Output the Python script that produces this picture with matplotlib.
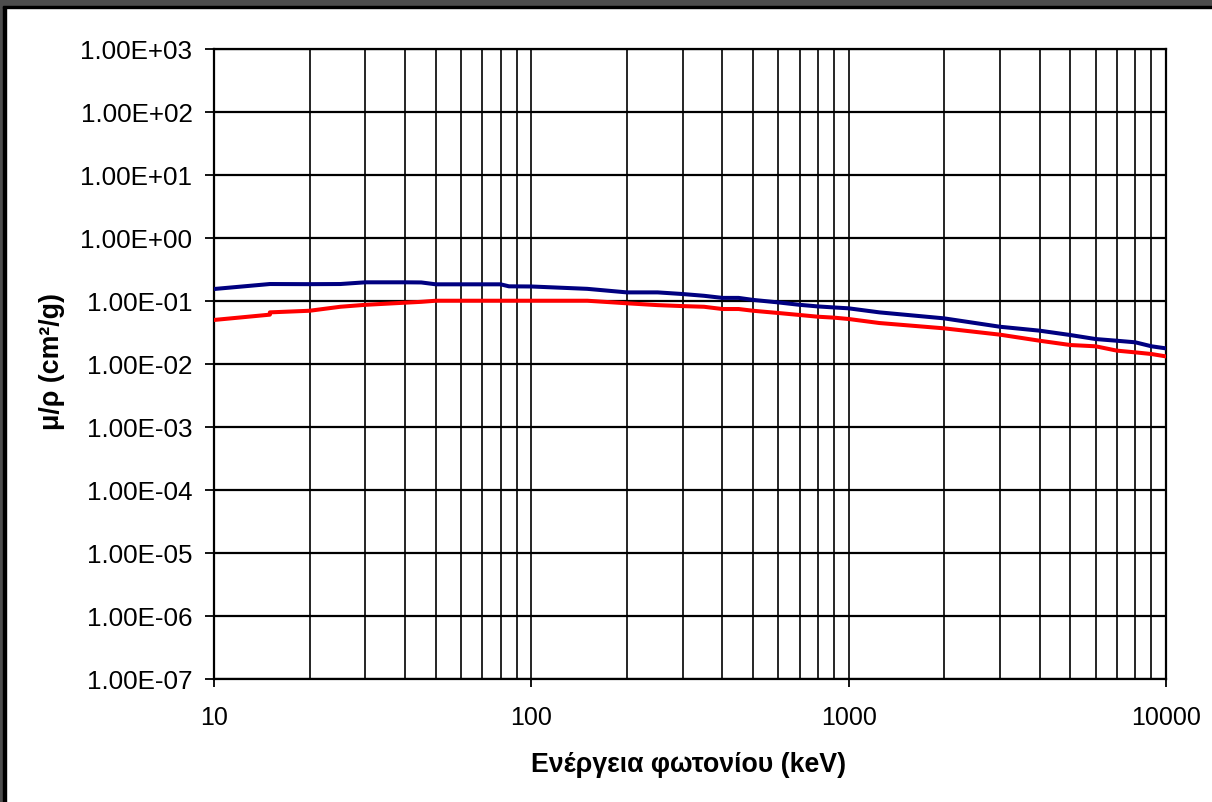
import matplotlib
matplotlib.use("Agg")
import matplotlib.pyplot as plt
from matplotlib.patches import Rectangle
from matplotlib.ticker import FixedLocator, FuncFormatter, NullFormatter

# photon energy (keV) and mass attenuation values (cm2/g)
energy = [10, 15, 15, 20, 25, 30, 40, 45, 50, 60, 80, 85, 100, 150, 200, 250,
          300, 350, 400, 450, 500, 600, 700, 800, 900, 1000, 1250, 2000, 3000,
          4000, 5000, 6000, 7000, 8000, 9000, 10000]
mu_blue = [0.155, 0.186, 0.186, 0.185, 0.186, 0.198, 0.198, 0.197, 0.184,
           0.184, 0.184, 0.171, 0.170, 0.156, 0.137, 0.137, 0.129, 0.121,
           0.112, 0.112, 0.104, 0.095, 0.087, 0.082, 0.079, 0.0765, 0.066,
           0.053, 0.039, 0.0338, 0.0288, 0.0249, 0.0234, 0.0221, 0.0191, 0.0177]
mu_red = [0.050, 0.0607, 0.066, 0.070, 0.081, 0.087, 0.094, 0.097, 0.101,
          0.101, 0.101, 0.101, 0.101, 0.101, 0.092, 0.086, 0.083, 0.081,
          0.0746, 0.0746, 0.070, 0.0645, 0.060, 0.0563, 0.0544, 0.0518, 0.0447,
          0.0368, 0.0292, 0.0234, 0.020, 0.0191, 0.0163, 0.0153, 0.0144, 0.0132]

y_decades = [1e-7, 1e-6, 1e-5, 1e-4, 1e-3, 1e-2, 1e-1, 1e0, 1e1, 1e2, 1e3]
x_decades = [10, 100, 1000, 10000]
x_minor = [m * d for d in [10, 100, 1000] for m in range(2, 10)]

W, H = 1212, 803
fig = plt.figure(figsize=(W / 100, H / 100), dpi=100)
fig.patch.set_facecolor("white")

# window frame on the left and top
fig.patches.append(Rectangle((0, 0), 3 / W, 1, transform=fig.transFigure,
                             color="#4d4d4d", zorder=0))
fig.patches.append(Rectangle((3 / W, 0), 3 / W, 1, transform=fig.transFigure,
                             color="black", zorder=0))
fig.patches.append(Rectangle((0, 1 - 7 / H), 1, 7 / H, transform=fig.transFigure,
                             color="#4d4d4d", zorder=0))
fig.patches.append(Rectangle((3 / W, 1 - 9 / H), 1, 2 / H, transform=fig.transFigure,
                             color="black", zorder=0))

ax = fig.add_axes([214 / W, 1 - 680 / H, 952 / W, 630 / H])
ax.set_xscale("log")
ax.set_yscale("log")
ax.set_xlim(10, 10000)
ax.set_ylim(1e-7, 1e3)

ax.plot(energy, mu_blue, color="#000080", lw=2.9, solid_joinstyle="round", zorder=3)
ax.plot(energy, mu_red, color="#ff0000", lw=2.9, solid_joinstyle="round", zorder=3)

ax.xaxis.set_major_locator(FixedLocator(x_decades))
ax.xaxis.set_minor_locator(FixedLocator(x_minor))
ax.xaxis.set_minor_formatter(NullFormatter())
ax.xaxis.set_major_formatter(FuncFormatter(lambda v, p: f"{v:.0f}"))
ax.yaxis.set_major_locator(FixedLocator(y_decades))
ax.yaxis.set_minor_locator(FixedLocator([]))
ax.yaxis.set_major_formatter(FuncFormatter(lambda v, p: f"{v:.2E}"))

ax.grid(True, which="both", axis="x", color="black", lw=1.2)
ax.grid(True, which="major", axis="y", color="black", lw=1.6)
ax.set_axisbelow(True)
for s in ax.spines.values():
    s.set_linewidth(1.6)
    s.set_color("black")

ax.tick_params(axis="x", which="major", length=6, width=1.3, pad=13,
               labelsize=18, direction="out")
ax.tick_params(axis="x", which="minor", length=0)
ax.tick_params(axis="y", which="major", length=6.5, width=1.3, pad=9,
               labelsize=18.7, direction="out")
for lab in ax.get_xticklabels() + ax.get_yticklabels():
    lab.set_fontfamily(["Liberation Sans", "DejaVu Sans"])

fig.text(689 / W, 1 - 765 / H, "Ενέργεια φωτονίου (keV)", ha="center", va="center",
         fontsize=19.3, fontweight="bold", family=["Liberation Sans", "DejaVu Sans"])
fig.text(52 / W, 1 - 362 / H, "μ/ρ (cm²/g)", ha="center", va="center", rotation=90,
         fontsize=19.3, fontweight="bold", family=["Liberation Sans", "DejaVu Sans"])

fig.savefig("out.png", dpi=100)
